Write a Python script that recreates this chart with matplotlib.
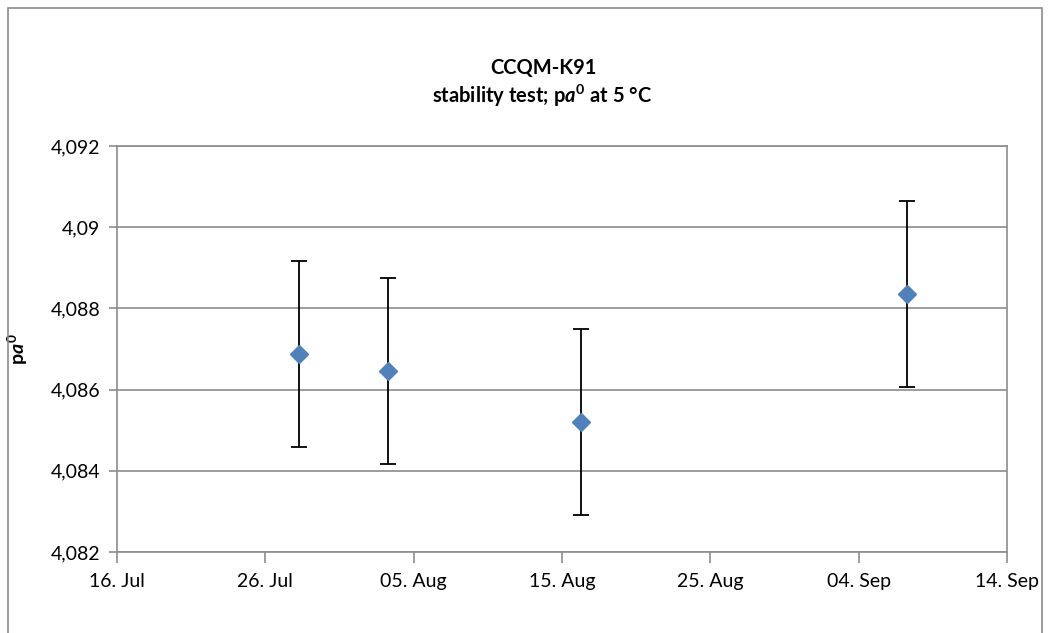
import matplotlib
matplotlib.use("Agg")
import matplotlib.pyplot as plt
import matplotlib.dates as mdates
from matplotlib.ticker import FuncFormatter, MultipleLocator
from matplotlib.patches import Rectangle
import datetime as dt

plt.rcParams['font.family'] = ['Lato', 'DejaVu Sans']
plt.rcParams['mathtext.fontset'] = 'custom'
plt.rcParams['mathtext.it'] = 'Lato:italic:bold'
plt.rcParams['mathtext.rm'] = 'Lato:bold'
plt.rcParams['mathtext.bf'] = 'Lato:bold'

dates = ["2011-07-28 06:00", "2011-08-03 06:00", "2011-08-16 06:00", "2011-09-07 06:00"]
values = [4.08688, 4.08645, 4.08520, 4.08835]
errors = [0.00229, 0.00229, 0.00230, 0.00229]

x = [dt.datetime.strptime(d, "%Y-%m-%d %H:%M") for d in dates]

fig = plt.figure(figsize=(10.5, 6.33), dpi=100)
ax = fig.add_axes([0.1114, 0.128, 0.8476, 0.6414])

ax.errorbar(x, values, yerr=errors, fmt='D', color='#4F81BD', markersize=9.5,
            ecolor='black', elinewidth=1.3, capsize=6, capthick=1.3, zorder=3)

ax.set_xlim(dt.datetime(2011, 7, 16), dt.datetime(2011, 9, 14))
ax.set_ylim(4.082, 4.092)
ticks = [dt.datetime(2011, 7, 16) + dt.timedelta(days=10 * i) for i in range(7)]
ax.set_xticks(ticks)
ax.xaxis.set_major_formatter(mdates.DateFormatter("%d. %b"))
ax.yaxis.set_major_locator(MultipleLocator(0.002))
ax.yaxis.set_major_formatter(FuncFormatter(lambda v, p: ("%g" % round(v, 4)).replace('.', ',')))

grid_c = '#8C8C8C'
ax.grid(axis='y', color=grid_c, linewidth=1.2)
ax.set_axisbelow(True)
for s in ax.spines.values():
    s.set_color(grid_c)
    s.set_linewidth(1.2)
ax.tick_params(axis='x', direction='out', length=8, width=1.2, color=grid_c,
               labelsize=14, pad=7)
ax.tick_params(axis='y', direction='out', length=6, width=1.2, color=grid_c,
               labelsize=14, pad=6)

ax.set_ylabel(r"p$a^{0}$", fontsize=14, fontweight='bold')
ax.yaxis.set_label_coords(-0.098, 0.5)

fig.text(0.518, 0.893, "CCQM-K91", ha='center', va='center', fontsize=14.5, fontweight='bold')
fig.text(0.516, 0.849, r"stability test; p$a^{0}$ at 5 °C", ha='center', va='center',
         fontsize=14.5, fontweight='bold')

fig.patches.append(Rectangle((8 / 1050, -0.01), 1034 / 1050, 1 - 8 / 633 + 0.01,
                             transform=fig.transFigure, fill=False,
                             edgecolor='#8C8C8C', linewidth=1.2))

fig.savefig("out.png", dpi=100)
